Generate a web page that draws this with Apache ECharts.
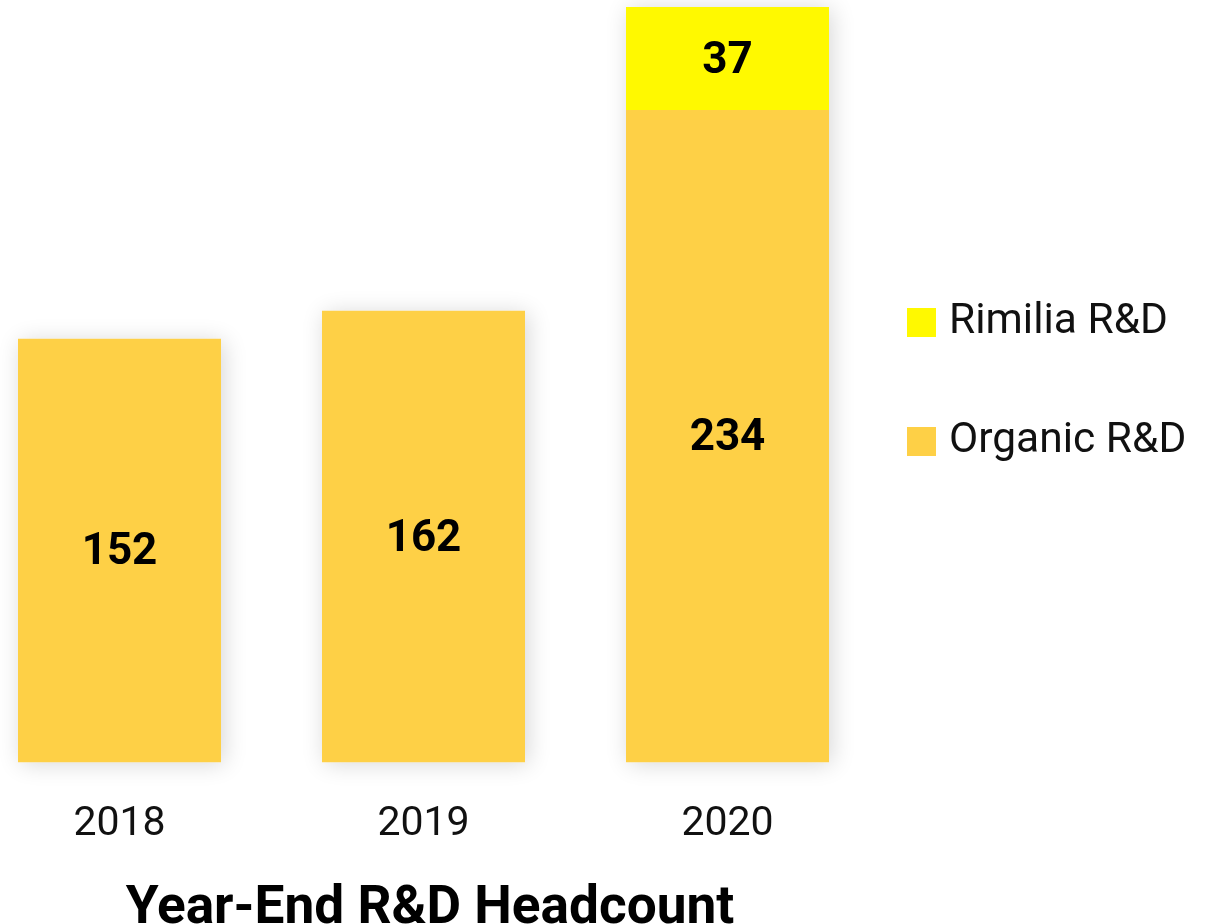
<!DOCTYPE html>
<html>
<head>
<meta charset="utf-8">
<script src="https://cdn.jsdelivr.net/npm/echarts@6/dist/echarts.min.js"></script>
<style>
  html, body { margin: 0; padding: 0; background: #ffffff; }
  #chart { width: 1215px; height: 924px; }
</style>
</head>
<body>
<div id="chart"></div>
<script>
// Year-end R&D headcount by year, split into organic and Rimilia staff
const years = ['2018', '2019', '2020'];
const organic = [152, 162, 234];
const rimilia = [null, null, 37];
const chartTitle = 'Year-End R&D Headcount';

// Combined height per year, used for the soft shadow behind each stack
const totals = years.map((_, i) => (organic[i] || 0) + (rimilia[i] || 0));

const ORGANIC_COLOR = '#FED046';
const RIMILIA_COLOR = '#FFF900';
const FONT = 'Roboto, "Noto Sans", sans-serif';

const chart = echarts.init(document.getElementById('chart'), null, { renderer: 'canvas' });

const valueLabel = {
  show: true,
  position: 'inside',
  offset: [0, 3],
  color: '#000000',
  fontFamily: FONT,
  fontWeight: 'bold',
  fontSize: 44
};

chart.setOption({
  animation: false,
  backgroundColor: '#ffffff',
  title: {
    text: chartTitle,
    left: 425,
    textAlign: 'center',
    top: 878,
    padding: 5,
    textStyle: {
      fontFamily: FONT,
      fontWeight: 'bold',
      fontSize: 53.2,
      color: '#000000'
    }
  },
  legend: {
    orient: 'vertical',
    left: 907,
    top: 301,
    padding: 0,
    itemWidth: 29,
    itemHeight: 29,
    itemGap: 76,
    icon: 'rect',
    data: ['Rimilia R&D', 'Organic R&D'],
    textStyle: {
      fontFamily: FONT,
      fontSize: 42.5,
      lineHeight: 43,
      color: '#111111',
      padding: [0, 0, 0, 8]
    }
  },
  grid: {
    outerBoundsMode: 'none',
    containLabel: false,
    left: -32.5,
    width: 912,
    top: 7,
    bottom: 161.7
  },
  xAxis: {
    type: 'category',
    data: years,
    axisLine: { show: false },
    axisTick: { show: false },
    axisLabel: {
      margin: 42,
      fontFamily: FONT,
      fontSize: 41,
      color: '#111111'
    }
  },
  yAxis: {
    type: 'value',
    min: 0,
    max: 271,
    show: false,
    splitLine: { show: false }
  },
  series: [
    {
      name: 'Organic R&D',
      type: 'bar',
      stack: 'rd',
      barWidth: 203,
      z: 3,
      itemStyle: { color: ORGANIC_COLOR },
      label: valueLabel,
      data: organic
    },
    {
      name: 'Rimilia R&D',
      type: 'bar',
      stack: 'rd',
      barWidth: 203,
      z: 3,
      itemStyle: { color: RIMILIA_COLOR },
      label: valueLabel,
      data: rimilia
    },
    {
      name: 'shadow',
      type: 'bar',
      barWidth: 203,
      barGap: '-100%',
      z: 1,
      silent: true,
      itemStyle: {
        color: '#ffffff',
        shadowColor: 'rgba(0,0,0,0.16)',
        shadowBlur: 22,
        shadowOffsetX: 3,
        shadowOffsetY: 2
      },
      label: { show: false },
      data: totals
    }
  ]
});
</script>
</body>
</html>
